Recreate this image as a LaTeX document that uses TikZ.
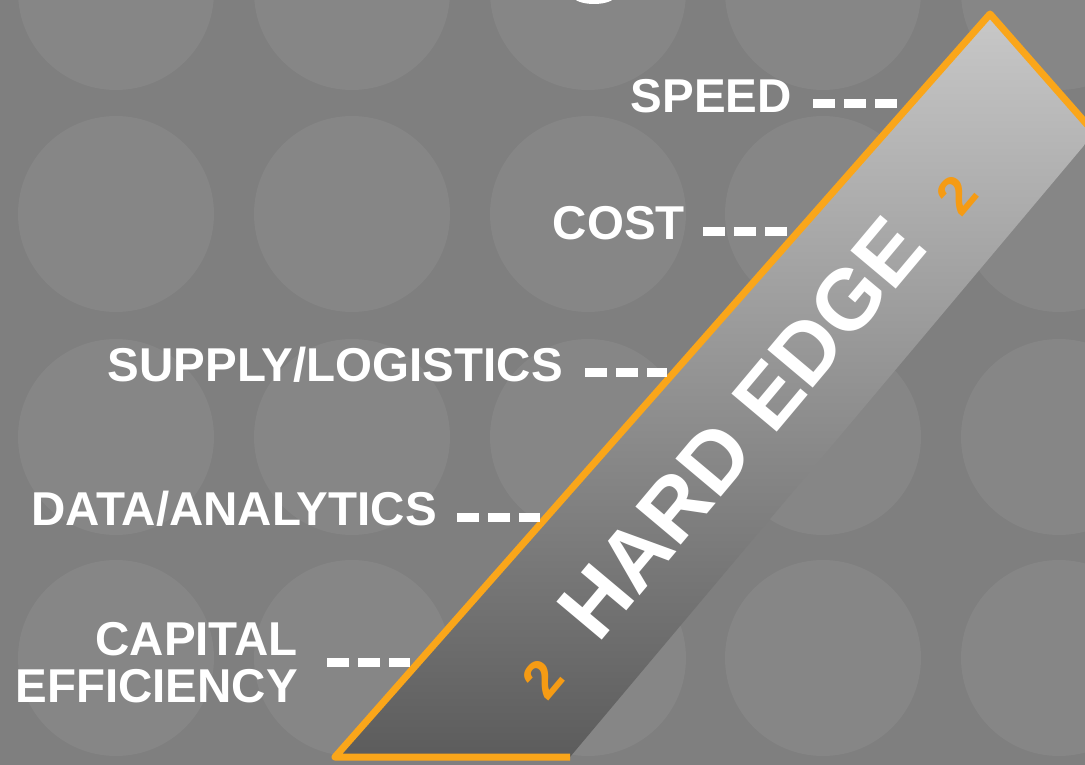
\documentclass[tikz,border=0pt]{standalone}
\usepackage{fontspec}
\setmainfont{Liberation Sans}
\definecolor{bgC}{RGB}{127,127,127}
\definecolor{circC}{RGB}{134,134,134}
\definecolor{edgeC}{RGB}{250,166,26}
\definecolor{twoC}{RGB}{245,155,20}
\definecolor{bandTop}{RGB}{200,200,200}
\definecolor{bandMid}{RGB}{158,158,158}
\definecolor{bandBot}{RGB}{92,92,92}
\begin{document}
\begin{tikzpicture}[x=1pt,y=-1pt,
  tagtext/.style={text=white,font=\bfseries\fontsize{47.5}{47.5}\selectfont,inner sep=0pt,anchor=base east},
  dashline/.style={draw=white,line width=9pt,dash pattern=on 22pt off 9pt},
  sup2/.style={text=twoC,font=\bfseries\fontsize{54}{54}\selectfont,inner sep=0pt,rotate=50},
  bubble/.style={fill=circC}]
\useasboundingbox (0,0) rectangle (1085,765);
\clip (0,0) rectangle (1085,765);

% backdrop with a grid of soft discs
\fill[bgC] (0,0) rectangle (1085,765);
\foreach \x in {116,352,588,823,1059}
  \foreach \y in {-8,214,437,658}
    \fill[bubble] (\x,\y) circle[radius=98pt];

% tail of the heading letter above the frame
\fill[white] (594,-4) ellipse[x radius=21pt, y radius=8pt];

% the slanted band
\coordinate (apex) at (990,14);
\coordinate (foot) at (335,757);
\coordinate (footR) at (570,757);
\coordinate (exitT) at (1092,130);
\coordinate (exitB) at (1092,136);
\shade[top color=bandTop, middle color=bandMid, bottom color=bandBot]
  (foot) -- (apex) -- (exitT) -- (exitB) -- (footR) -- cycle;
\draw[edgeC, line width=7pt, line join=round]
  (footR) -- (foot) -- (apex) -- (1098,137);

\node[text=white,font=\bfseries\fontsize{86}{86}\selectfont,inner sep=0pt,
      rotate=50,anchor=base] (hard) at (764,447) {HARD EDGE};
\node[sup2] (twoA) at (957,195) {2};
\node[sup2] (twoB) at (543,679) {2};

% labels with dashed leaders to the band edge
\node[tagtext] (speed) at (792,113) {SPEED};
\coordinate (speedEnd) at (897,104);
\draw[dashline] ([shift={(21,-9)}]speed.base east) -- (speedEnd);

\node[tagtext] (cost) at (685,240) {COST};
\coordinate (costEnd) at (787,231);
\draw[dashline] ([shift={(18,-9)}]cost.base east) -- (costEnd);

\node[tagtext] (supply) at (563,381) {SUPPLY/LOGISTICS};
\coordinate (supplyEnd) at (667,372);
\draw[dashline] ([shift={(22,-9)}]supply.base east) -- (supplyEnd);

\node[tagtext] (data) at (437,525) {DATA/ANALYTICS};
\coordinate (dataEnd) at (540,517);
\draw[dashline] ([shift={(20,-8)}]data.base east) -- (dataEnd);

\node[tagtext] (capital) at (298,655) {CAPITAL};
\node[tagtext] (effic) at (298,702) {EFFICIENCY};
\coordinate (capitalEnd) at (410,662);
\draw[dashline] ([shift={(29,7)}]capital.base east) -- (capitalEnd);
\end{tikzpicture}
\end{document}
